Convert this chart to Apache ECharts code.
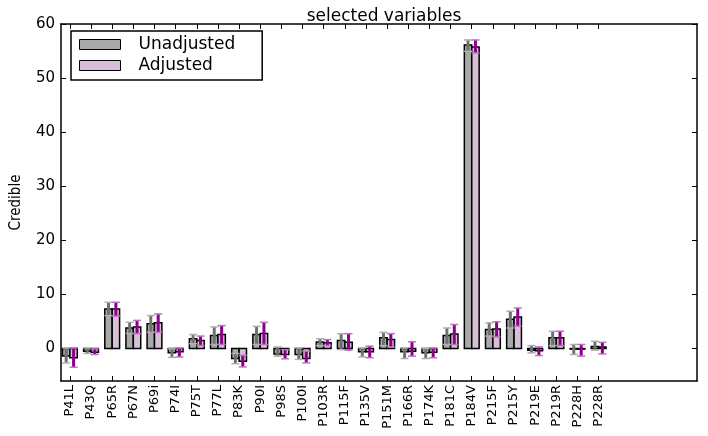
<!DOCTYPE html>
<html>
<head>
<meta charset="utf-8">
<script src="https://cdn.jsdelivr.net/npm/echarts@6/dist/echarts.min.js"></script>
<style>html,body{margin:0;padding:0;background:#fff}#c{width:708px;height:436px}</style>
</head>
<body>
<div id="c"></div>
<script>
var categories = ['P41L','P43Q','P65R','P67N','P69i','P74I','P75T','P77L','P83K','P90I','P98S','P100I','P103R','P115F','P135V','P151M','P166R','P174K','P181C','P184V','P215F','P215Y','P219E','P219R','P228H','P228R'];
var unadj     = [-1.4,-0.5,7.3,3.8,4.6,-0.8,1.8,2.4,-1.85,2.6,-1.0,-1.1,1.2,1.5,-0.6,2.0,-0.6,-0.8,2.4,56.1,3.5,5.4,-0.3,2.0,-0.1,0.4];
var unadjLow  = [-2.65,-0.9,6.1,2.8,3.0,-1.65,0.9,0.75,-2.8,0.75,-1.4,-2.0,0.55,-0.2,-1.55,0.55,-1.85,-1.85,0.75,54.95,2.3,3.8,-0.8,0.55,-1.1,-0.3];
var unadjHigh = [0.1,0.1,8.55,4.85,6.1,-0.05,2.6,4.0,-0.9,4.1,0.3,0.1,1.8,2.75,0.1,3.0,0.1,0.0,3.8,57.05,4.75,6.9,0.55,3.2,0.75,1.35];
var adj       = [-1.7,-0.7,7.3,4.0,4.75,-0.6,1.5,2.6,-2.35,2.8,-1.1,-1.85,1.05,1.15,-0.6,1.65,-0.5,-0.7,2.7,55.75,3.6,5.85,-0.4,2.0,-0.1,0.3];
var adjLow    = [-3.45,-1.1,6.0,2.75,3.0,-1.55,0.55,0.75,-3.4,0.75,-1.9,-2.65,0.55,-0.3,-1.7,0.3,-1.4,-1.7,0.75,54.65,2.15,4.15,-1.3,0.55,-1.4,-1.0];
var adjHigh   = [0.1,-0.05,8.55,5.2,6.4,0.1,2.3,4.25,-1.25,4.85,-0.2,-0.5,1.65,2.75,0.45,2.75,1.25,0.1,4.45,57.05,4.95,7.5,0.3,3.2,0.75,1.15];
var yTicks = [0,10,20,30,40,50,60];

var W = 0.35;
var idx = categories.map(function(c,i){return i;});
var FONT = 'DejaVu Sans';

function barItem(off, color){
  return function(params, api){
    var i = api.value(0), v = api.value(1);
    var a = api.coord([i+off, 0]), b = api.coord([i+off+W, v]);
    return {type:'rect', shape:{x:a[0], y:Math.min(a[1],b[1]), width:b[0]-a[0], height:Math.abs(b[1]-a[1])},
      style:{fill:color, stroke:'#000', lineWidth:1.5}};
  };
}
function errItem(off, lineColor, capColor){
  return function(params, api){
    var i = api.value(0);
    var lo = api.coord([i+off, api.value(1)]), hi = api.coord([i+off, api.value(2)]);
    var x = lo[0], cw = 4;
    return {type:'group', children:[
      {type:'line', shape:{x1:x, y1:lo[1], x2:x, y2:hi[1]}, style:{stroke:lineColor, lineWidth:3}},
      {type:'line', shape:{x1:x-cw, y1:lo[1], x2:x+cw, y2:lo[1]}, style:{stroke:capColor, lineWidth:1.5}},
      {type:'line', shape:{x1:x-cw, y1:hi[1], x2:x+cw, y2:hi[1]}, style:{stroke:capColor, lineWidth:1.5}}
    ]};
  };
}

var chart = echarts.init(document.getElementById('c'), null, {renderer:'canvas'});
var xCommon = {type:'value', min:-0.42, max:29.65, splitLine:{show:false},
  axisLine:{show:true, onZero:false, lineStyle:{color:'#000', width:1.5}}};
chart.setOption({
  animation:false,
  title:{text:'selected variables', left:379, textAlign:'center', top:3,
    textStyle:{fontFamily:FONT, fontSize:17, fontWeight:'normal', color:'#000'}},
  grid:{left:61, right:11, top:24, bottom:55, containLabel:false},
  legend:{left:71, top:31, orient:'vertical', itemWidth:41, itemHeight:10, itemGap:4,
    padding:[5,27,6,8], borderColor:'#000', borderWidth:1.5, backgroundColor:'#fff',
    textStyle:{fontFamily:FONT, fontSize:17, color:'#000', padding:[0,0,0,13]},
    selectedMode:false,
    data:[
      {name:'Unadjusted', icon:'rect', itemStyle:{color:'#a9a9a9', borderColor:'#000', borderWidth:1}},
      {name:'Adjusted', icon:'rect', itemStyle:{color:'#d8bfd8', borderColor:'#000', borderWidth:1}}
    ]},
  xAxis:[
    Object.assign({}, xCommon, {position:'bottom',
      axisTick:{show:true, inside:true, length:5, customValues:idx, lineStyle:{color:'#000', width:1}},
      axisLabel:{show:true, customValues:idx, rotate:90, margin:4, fontFamily:FONT, fontSize:13, color:'#000',
        formatter:function(v){var k=Math.round(v); return categories[k]||'';}}}),
    Object.assign({}, xCommon, {position:'top',
      axisTick:{show:true, inside:true, length:5, customValues:idx, lineStyle:{color:'#000', width:1}},
      axisLabel:{show:false}})
  ],
  yAxis:[
    {type:'value', min:-6, max:60, position:'left', splitLine:{show:false},
      name:'Credible', nameLocation:'middle', nameGap:37, nameRotate:90,
      nameTextStyle:{fontFamily:'DejaVu Sans Condensed, DejaVu Sans', fontSize:15, color:'#000'},
      axisLine:{show:true, onZero:false, lineStyle:{color:'#000', width:1.5}},
      axisTick:{show:true, inside:true, length:5, customValues:yTicks, lineStyle:{color:'#000', width:1}},
      axisLabel:{show:true, customValues:yTicks, margin:6, fontFamily:FONT, fontSize:15, color:'#000'}},
    {type:'value', min:-6, max:60, position:'right', splitLine:{show:false},
      axisLine:{show:true, onZero:false, lineStyle:{color:'#000', width:1.5}},
      axisTick:{show:true, inside:true, length:5, customValues:yTicks, lineStyle:{color:'#000', width:1}},
      axisLabel:{show:false}}
  ],
  series:[
    {name:'Unadjusted', type:'custom', renderItem:barItem(-W,'#a9a9a9'), itemStyle:{color:'#a9a9a9'},
      data:idx.map(function(i){return [i, unadj[i]];}), z:2},
    {name:'Adjusted', type:'custom', renderItem:barItem(0,'#d8bfd8'), itemStyle:{color:'#d8bfd8'},
      data:idx.map(function(i){return [i, adj[i]];}), z:2},
    {name:'UnadjErr', type:'custom', renderItem:errItem(-W/2,'#707070','#b0b0b0'),
      data:idx.map(function(i){return [i, unadjLow[i], unadjHigh[i]];}), z:3},
    {name:'AdjErr', type:'custom', renderItem:errItem(W/2,'#8b008b','#c070c0'),
      data:idx.map(function(i){return [i, adjLow[i], adjHigh[i]];}), z:4}
  ]
});
</script>
</body>
</html>
